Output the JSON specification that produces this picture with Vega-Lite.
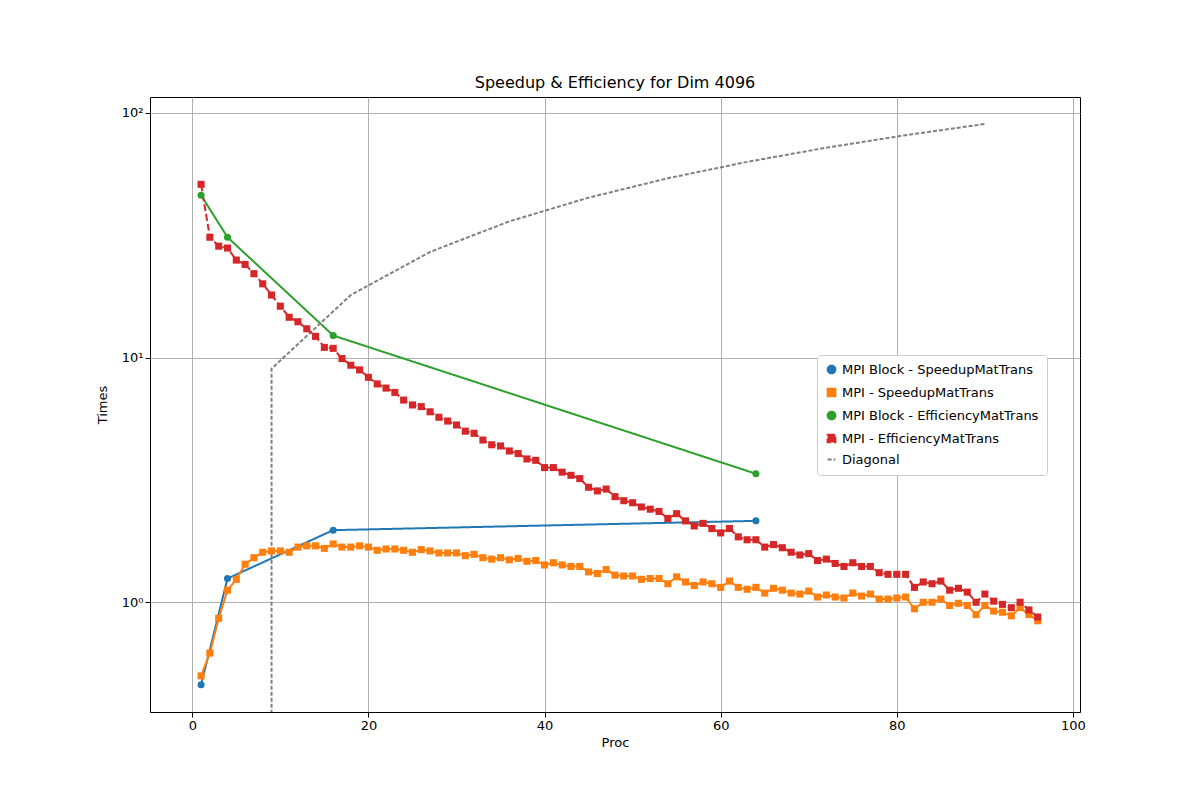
{
"$schema":"https://vega.github.io/schema/vega-lite/v6.json",
"width":930,"height":615,"autosize":{"type":"none"},
"padding":{"left":150,"top":97,"right":120,"bottom":88},
"background":"white",
"title":{"text":"Speedup & Efficiency for Dim 4096","fontSize":16,"font":"DejaVu Sans","fontWeight":"normal","offset":6},
"config":{"font":"DejaVu Sans","view":{"stroke":"black"},"axis":{"gridColor":"#b0b0b0","gridOpacity":1,"domain":false,"tickColor":"black","labelColor":"black","labelFontSize":13,"titleFontSize":13,"titleFontWeight":"normal","labelFont":"DejaVu Sans","titleFont":"DejaVu Sans","titleColor":"black"}},
"data":{"values":[
{"s":"MPI Block - SpeedupMatTrans","p":1,"v":0.46},{"s":"MPI Block - SpeedupMatTrans","p":4,"v":1.25},{"s":"MPI Block - SpeedupMatTrans","p":16,"v":1.97},{"s":"MPI Block - SpeedupMatTrans","p":64,"v":2.15},
{"s":"MPI Block - EfficiencyMatTrans","p":1,"v":46},{"s":"MPI Block - EfficiencyMatTrans","p":4,"v":31},{"s":"MPI Block - EfficiencyMatTrans","p":16,"v":12.3},{"s":"MPI Block - EfficiencyMatTrans","p":64,"v":3.35},
{"s":"Diagonal","p":9,"v":0.01},{"s":"Diagonal","p":9,"v":9},{"s":"Diagonal","p":18,"v":18},{"s":"Diagonal","p":27,"v":27},{"s":"Diagonal","p":36,"v":36},{"s":"Diagonal","p":45,"v":45},{"s":"Diagonal","p":54,"v":54},{"s":"Diagonal","p":63,"v":63},{"s":"Diagonal","p":72,"v":72},{"s":"Diagonal","p":81,"v":81},{"s":"Diagonal","p":90,"v":90},
{"s":"MPI - SpeedupMatTrans","p":1,"v":0.50},{"s":"MPI - SpeedupMatTrans","p":2,"v":0.62},{"s":"MPI - SpeedupMatTrans","p":3,"v":0.86},{"s":"MPI - SpeedupMatTrans","p":4,"v":1.12},{"s":"MPI - SpeedupMatTrans","p":5,"v":1.24},{"s":"MPI - SpeedupMatTrans","p":6,"v":1.43},{"s":"MPI - SpeedupMatTrans","p":7,"v":1.52},{"s":"MPI - SpeedupMatTrans","p":8,"v":1.60},{"s":"MPI - SpeedupMatTrans","p":9,"v":1.62},{"s":"MPI - SpeedupMatTrans","p":10,"v":1.62},{"s":"MPI - SpeedupMatTrans","p":11,"v":1.60},{"s":"MPI - SpeedupMatTrans","p":12,"v":1.68},{"s":"MPI - SpeedupMatTrans","p":13,"v":1.70},{"s":"MPI - SpeedupMatTrans","p":14,"v":1.70},{"s":"MPI - SpeedupMatTrans","p":15,"v":1.66},{"s":"MPI - SpeedupMatTrans","p":16,"v":1.73},{"s":"MPI - SpeedupMatTrans","p":17,"v":1.68},{"s":"MPI - SpeedupMatTrans","p":18,"v":1.68},{"s":"MPI - SpeedupMatTrans","p":19,"v":1.70},{"s":"MPI - SpeedupMatTrans","p":20,"v":1.68},{"s":"MPI - SpeedupMatTrans","p":21,"v":1.63},{"s":"MPI - SpeedupMatTrans","p":22,"v":1.65},{"s":"MPI - SpeedupMatTrans","p":23,"v":1.65},{"s":"MPI - SpeedupMatTrans","p":24,"v":1.63},{"s":"MPI - SpeedupMatTrans","p":25,"v":1.60},{"s":"MPI - SpeedupMatTrans","p":26,"v":1.64},{"s":"MPI - SpeedupMatTrans","p":27,"v":1.62},{"s":"MPI - SpeedupMatTrans","p":28,"v":1.59},{"s":"MPI - SpeedupMatTrans","p":29,"v":1.59},{"s":"MPI - SpeedupMatTrans","p":30,"v":1.59},{"s":"MPI - SpeedupMatTrans","p":31,"v":1.55},{"s":"MPI - SpeedupMatTrans","p":32,"v":1.57},{"s":"MPI - SpeedupMatTrans","p":33,"v":1.52},{"s":"MPI - SpeedupMatTrans","p":34,"v":1.50},{"s":"MPI - SpeedupMatTrans","p":35,"v":1.52},{"s":"MPI - SpeedupMatTrans","p":36,"v":1.49},{"s":"MPI - SpeedupMatTrans","p":37,"v":1.51},{"s":"MPI - SpeedupMatTrans","p":38,"v":1.47},{"s":"MPI - SpeedupMatTrans","p":39,"v":1.48},{"s":"MPI - SpeedupMatTrans","p":40,"v":1.42},{"s":"MPI - SpeedupMatTrans","p":41,"v":1.45},{"s":"MPI - SpeedupMatTrans","p":42,"v":1.42},{"s":"MPI - SpeedupMatTrans","p":43,"v":1.40},{"s":"MPI - SpeedupMatTrans","p":44,"v":1.40},{"s":"MPI - SpeedupMatTrans","p":45,"v":1.33},{"s":"MPI - SpeedupMatTrans","p":46,"v":1.31},{"s":"MPI - SpeedupMatTrans","p":47,"v":1.36},{"s":"MPI - SpeedupMatTrans","p":48,"v":1.29},{"s":"MPI - SpeedupMatTrans","p":49,"v":1.28},{"s":"MPI - SpeedupMatTrans","p":50,"v":1.28},{"s":"MPI - SpeedupMatTrans","p":51,"v":1.24},{"s":"MPI - SpeedupMatTrans","p":52,"v":1.25},{"s":"MPI - SpeedupMatTrans","p":53,"v":1.25},{"s":"MPI - SpeedupMatTrans","p":54,"v":1.19},{"s":"MPI - SpeedupMatTrans","p":55,"v":1.27},{"s":"MPI - SpeedupMatTrans","p":56,"v":1.21},{"s":"MPI - SpeedupMatTrans","p":57,"v":1.17},{"s":"MPI - SpeedupMatTrans","p":58,"v":1.21},{"s":"MPI - SpeedupMatTrans","p":59,"v":1.19},{"s":"MPI - SpeedupMatTrans","p":60,"v":1.15},{"s":"MPI - SpeedupMatTrans","p":61,"v":1.22},{"s":"MPI - SpeedupMatTrans","p":62,"v":1.15},{"s":"MPI - SpeedupMatTrans","p":63,"v":1.13},{"s":"MPI - SpeedupMatTrans","p":64,"v":1.15},{"s":"MPI - SpeedupMatTrans","p":65,"v":1.09},{"s":"MPI - SpeedupMatTrans","p":66,"v":1.14},{"s":"MPI - SpeedupMatTrans","p":67,"v":1.12},{"s":"MPI - SpeedupMatTrans","p":68,"v":1.09},{"s":"MPI - SpeedupMatTrans","p":69,"v":1.08},{"s":"MPI - SpeedupMatTrans","p":70,"v":1.11},{"s":"MPI - SpeedupMatTrans","p":71,"v":1.05},{"s":"MPI - SpeedupMatTrans","p":72,"v":1.07},{"s":"MPI - SpeedupMatTrans","p":73,"v":1.05},{"s":"MPI - SpeedupMatTrans","p":74,"v":1.04},{"s":"MPI - SpeedupMatTrans","p":75,"v":1.09},{"s":"MPI - SpeedupMatTrans","p":76,"v":1.06},{"s":"MPI - SpeedupMatTrans","p":77,"v":1.08},{"s":"MPI - SpeedupMatTrans","p":78,"v":1.03},{"s":"MPI - SpeedupMatTrans","p":79,"v":1.03},{"s":"MPI - SpeedupMatTrans","p":80,"v":1.04},{"s":"MPI - SpeedupMatTrans","p":81,"v":1.05},{"s":"MPI - SpeedupMatTrans","p":82,"v":0.94},{"s":"MPI - SpeedupMatTrans","p":83,"v":1.00},{"s":"MPI - SpeedupMatTrans","p":84,"v":1.00},{"s":"MPI - SpeedupMatTrans","p":85,"v":1.03},{"s":"MPI - SpeedupMatTrans","p":86,"v":0.97},{"s":"MPI - SpeedupMatTrans","p":87,"v":0.99},{"s":"MPI - SpeedupMatTrans","p":88,"v":0.97},{"s":"MPI - SpeedupMatTrans","p":89,"v":0.89},{"s":"MPI - SpeedupMatTrans","p":90,"v":0.97},{"s":"MPI - SpeedupMatTrans","p":91,"v":0.92},{"s":"MPI - SpeedupMatTrans","p":92,"v":0.91},{"s":"MPI - SpeedupMatTrans","p":93,"v":0.88},{"s":"MPI - SpeedupMatTrans","p":94,"v":0.95},{"s":"MPI - SpeedupMatTrans","p":95,"v":0.89},{"s":"MPI - SpeedupMatTrans","p":96,"v":0.84},
{"s":"MPI - EfficiencyMatTrans","p":1,"v":51},{"s":"MPI - EfficiencyMatTrans","p":2,"v":31},{"s":"MPI - EfficiencyMatTrans","p":3,"v":28.5},{"s":"MPI - EfficiencyMatTrans","p":4,"v":28},{"s":"MPI - EfficiencyMatTrans","p":5,"v":25},{"s":"MPI - EfficiencyMatTrans","p":6,"v":24},{"s":"MPI - EfficiencyMatTrans","p":7,"v":22},{"s":"MPI - EfficiencyMatTrans","p":8,"v":20},{"s":"MPI - EfficiencyMatTrans","p":9,"v":18},{"s":"MPI - EfficiencyMatTrans","p":10,"v":16.2},{"s":"MPI - EfficiencyMatTrans","p":11,"v":14.6},{"s":"MPI - EfficiencyMatTrans","p":12,"v":14},{"s":"MPI - EfficiencyMatTrans","p":13,"v":13.1},{"s":"MPI - EfficiencyMatTrans","p":14,"v":12.2},{"s":"MPI - EfficiencyMatTrans","p":15,"v":11},{"s":"MPI - EfficiencyMatTrans","p":16,"v":10.9},{"s":"MPI - EfficiencyMatTrans","p":17,"v":9.9},{"s":"MPI - EfficiencyMatTrans","p":18,"v":9.3},{"s":"MPI - EfficiencyMatTrans","p":19,"v":8.9},{"s":"MPI - EfficiencyMatTrans","p":20,"v":8.3},{"s":"MPI - EfficiencyMatTrans","p":21,"v":7.8},{"s":"MPI - EfficiencyMatTrans","p":22,"v":7.5},{"s":"MPI - EfficiencyMatTrans","p":23,"v":7.2},{"s":"MPI - EfficiencyMatTrans","p":24,"v":6.7},{"s":"MPI - EfficiencyMatTrans","p":25,"v":6.4},{"s":"MPI - EfficiencyMatTrans","p":26,"v":6.3},{"s":"MPI - EfficiencyMatTrans","p":27,"v":6.0},{"s":"MPI - EfficiencyMatTrans","p":28,"v":5.7},{"s":"MPI - EfficiencyMatTrans","p":29,"v":5.5},{"s":"MPI - EfficiencyMatTrans","p":30,"v":5.3},{"s":"MPI - EfficiencyMatTrans","p":31,"v":5.0},{"s":"MPI - EfficiencyMatTrans","p":32,"v":4.9},{"s":"MPI - EfficiencyMatTrans","p":33,"v":4.6},{"s":"MPI - EfficiencyMatTrans","p":34,"v":4.4},{"s":"MPI - EfficiencyMatTrans","p":35,"v":4.35},{"s":"MPI - EfficiencyMatTrans","p":36,"v":4.15},{"s":"MPI - EfficiencyMatTrans","p":37,"v":4.05},{"s":"MPI - EfficiencyMatTrans","p":38,"v":3.85},{"s":"MPI - EfficiencyMatTrans","p":39,"v":3.8},{"s":"MPI - EfficiencyMatTrans","p":40,"v":3.55},{"s":"MPI - EfficiencyMatTrans","p":41,"v":3.55},{"s":"MPI - EfficiencyMatTrans","p":42,"v":3.4},{"s":"MPI - EfficiencyMatTrans","p":43,"v":3.3},{"s":"MPI - EfficiencyMatTrans","p":44,"v":3.2},{"s":"MPI - EfficiencyMatTrans","p":45,"v":2.95},{"s":"MPI - EfficiencyMatTrans","p":46,"v":2.85},{"s":"MPI - EfficiencyMatTrans","p":47,"v":2.9},{"s":"MPI - EfficiencyMatTrans","p":48,"v":2.7},{"s":"MPI - EfficiencyMatTrans","p":49,"v":2.6},{"s":"MPI - EfficiencyMatTrans","p":50,"v":2.55},{"s":"MPI - EfficiencyMatTrans","p":51,"v":2.45},{"s":"MPI - EfficiencyMatTrans","p":52,"v":2.4},{"s":"MPI - EfficiencyMatTrans","p":53,"v":2.35},{"s":"MPI - EfficiencyMatTrans","p":54,"v":2.2},{"s":"MPI - EfficiencyMatTrans","p":55,"v":2.3},{"s":"MPI - EfficiencyMatTrans","p":56,"v":2.15},{"s":"MPI - EfficiencyMatTrans","p":57,"v":2.05},{"s":"MPI - EfficiencyMatTrans","p":58,"v":2.1},{"s":"MPI - EfficiencyMatTrans","p":59,"v":2.0},{"s":"MPI - EfficiencyMatTrans","p":60,"v":1.92},{"s":"MPI - EfficiencyMatTrans","p":61,"v":2.0},{"s":"MPI - EfficiencyMatTrans","p":62,"v":1.85},{"s":"MPI - EfficiencyMatTrans","p":63,"v":1.8},{"s":"MPI - EfficiencyMatTrans","p":64,"v":1.8},{"s":"MPI - EfficiencyMatTrans","p":65,"v":1.68},{"s":"MPI - EfficiencyMatTrans","p":66,"v":1.72},{"s":"MPI - EfficiencyMatTrans","p":67,"v":1.67},{"s":"MPI - EfficiencyMatTrans","p":68,"v":1.6},{"s":"MPI - EfficiencyMatTrans","p":69,"v":1.56},{"s":"MPI - EfficiencyMatTrans","p":70,"v":1.58},{"s":"MPI - EfficiencyMatTrans","p":71,"v":1.48},{"s":"MPI - EfficiencyMatTrans","p":72,"v":1.5},{"s":"MPI - EfficiencyMatTrans","p":73,"v":1.44},{"s":"MPI - EfficiencyMatTrans","p":74,"v":1.4},{"s":"MPI - EfficiencyMatTrans","p":75,"v":1.45},{"s":"MPI - EfficiencyMatTrans","p":76,"v":1.4},{"s":"MPI - EfficiencyMatTrans","p":77,"v":1.4},{"s":"MPI - EfficiencyMatTrans","p":78,"v":1.32},{"s":"MPI - EfficiencyMatTrans","p":79,"v":1.3},{"s":"MPI - EfficiencyMatTrans","p":80,"v":1.3},{"s":"MPI - EfficiencyMatTrans","p":81,"v":1.3},{"s":"MPI - EfficiencyMatTrans","p":82,"v":1.15},{"s":"MPI - EfficiencyMatTrans","p":83,"v":1.21},{"s":"MPI - EfficiencyMatTrans","p":84,"v":1.19},{"s":"MPI - EfficiencyMatTrans","p":85,"v":1.22},{"s":"MPI - EfficiencyMatTrans","p":86,"v":1.12},{"s":"MPI - EfficiencyMatTrans","p":87,"v":1.14},{"s":"MPI - EfficiencyMatTrans","p":88,"v":1.1},{"s":"MPI - EfficiencyMatTrans","p":89,"v":1.0},{"s":"MPI - EfficiencyMatTrans","p":90,"v":1.08},{"s":"MPI - EfficiencyMatTrans","p":91,"v":1.01},{"s":"MPI - EfficiencyMatTrans","p":92,"v":0.98},{"s":"MPI - EfficiencyMatTrans","p":93,"v":0.95},{"s":"MPI - EfficiencyMatTrans","p":94,"v":1.0},{"s":"MPI - EfficiencyMatTrans","p":95,"v":0.93},{"s":"MPI - EfficiencyMatTrans","p":96,"v":0.87}
]},
"encoding":{
"x":{"field":"p","type":"quantitative","title":"Proc","scale":{"domain":[-4.8,100.8],"nice":false,"zero":false},"axis":{"values":[0,20,40,60,80,100],"labelFlush":false}},
"y":{"field":"v","type":"quantitative","title":"Times","scale":{"type":"log","domain":[0.356,116],"nice":false},"axis":{"values":[1,10,100],"labelExpr":"datum.value==1?'10⁰':datum.value==10?'10¹':'10²'","titlePadding":12}},
"color":{"field":"s","type":"nominal","sort":null,"scale":{"domain":["MPI Block - SpeedupMatTrans","MPI - SpeedupMatTrans","MPI Block - EfficiencyMatTrans","MPI - EfficiencyMatTrans","Diagonal"],"range":["#1f77b4","#ff7f0e","#2ca02c","#d62728","gray"]},"legend":{"title":null,"orient":"none","legendX":667,"legendY":258,"fillColor":"white","strokeColor":"#cccccc","padding":8,"labelFontSize":13,"labelFont":"DejaVu Sans","labelColor":"black","symbolSize":60,"symbolStrokeWidth":2,"rowPadding":6,"cornerRadius":3,"labelLimit":300}}
},
"layer":[
{"mark":{"type":"line","clip":true},"encoding":{
"strokeDash":{"field":"s","type":"nominal","sort":null,"scale":{"domain":["MPI Block - SpeedupMatTrans","MPI - SpeedupMatTrans","MPI Block - EfficiencyMatTrans","MPI - EfficiencyMatTrans","Diagonal"],"range":[[1,0],[1,0],[1,0],[7,3],[4,2]]},"legend":null},
"strokeWidth":{"field":"s","type":"nominal","scale":{"domain":["MPI Block - SpeedupMatTrans","MPI - SpeedupMatTrans","MPI Block - EfficiencyMatTrans","MPI - EfficiencyMatTrans","Diagonal"],"range":[2,2,2,2,1]},"legend":null}}},
{"transform":[{"filter":"datum.s != 'Diagonal'"}],"mark":{"type":"point","filled":true,"opacity":1,"size":50,"clip":true},"encoding":{
"shape":{"field":"s","type":"nominal","sort":null,"scale":{"domain":["MPI Block - SpeedupMatTrans","MPI - SpeedupMatTrans","MPI Block - EfficiencyMatTrans","MPI - EfficiencyMatTrans","Diagonal"],"range":["circle","square","circle","square","stroke"]}}}}
]
}
